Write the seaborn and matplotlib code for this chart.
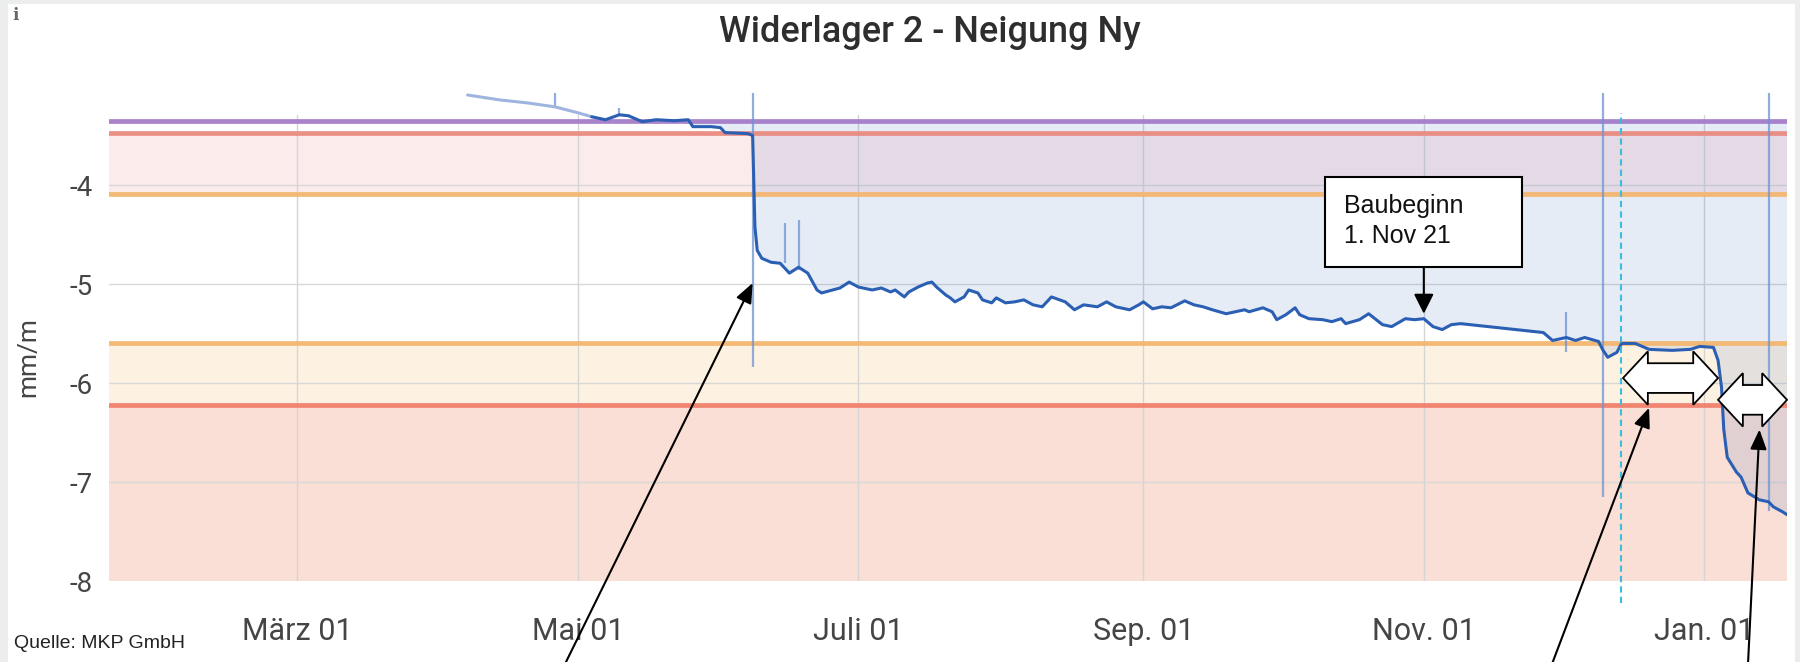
import numpy as np
import pandas as pd
import matplotlib
matplotlib.use("Agg")
import matplotlib.pyplot as plt
import matplotlib.dates as mdates
from matplotlib.patches import Rectangle, Polygon
import seaborn as sns

dates = ["2021-04-07", "2021-04-14", "2021-04-20", "2021-04-26", "2021-05-01", "2021-05-04",
         "2021-05-07", "2021-05-10", "2021-05-12", "2021-05-15", "2021-05-18", "2021-05-22",
         "2021-05-25", "2021-05-26", "2021-05-30", "2021-06-01", "2021-06-02", "2021-06-07",
         "2021-06-08 00:00", "2021-06-08 06:00", "2021-06-08 12:00", "2021-06-09", "2021-06-10",
         "2021-06-12", "2021-06-14", "2021-06-16", "2021-06-18", "2021-06-20", "2021-06-22",
         "2021-06-23", "2021-06-27", "2021-06-29",
         "2021-07-01", "2021-07-04", "2021-07-06", "2021-07-08", "2021-07-09", "2021-07-11",
         "2021-07-12", "2021-07-14", "2021-07-16", "2021-07-17", "2021-07-18", "2021-07-20",
         "2021-07-21", "2021-07-22", "2021-07-24", "2021-07-25", "2021-07-27", "2021-07-28",
         "2021-07-30", "2021-07-31", "2021-08-02", "2021-08-04", "2021-08-06", "2021-08-08",
         "2021-08-10", "2021-08-12", "2021-08-15", "2021-08-17", "2021-08-19", "2021-08-22",
         "2021-08-24", "2021-08-26", "2021-08-29", "2021-08-31", "2021-09-01",
         "2021-09-03", "2021-09-05", "2021-09-07", "2021-09-10", "2021-09-12", "2021-09-14",
         "2021-09-16", "2021-09-19", "2021-09-21", "2021-09-23", "2021-09-24", "2021-09-27",
         "2021-09-29", "2021-09-30", "2021-10-02", "2021-10-04", "2021-10-05", "2021-10-07",
         "2021-10-10", "2021-10-12", "2021-10-14", "2021-10-15", "2021-10-18", "2021-10-20",
         "2021-10-23", "2021-10-25", "2021-10-28", "2021-10-30", "2021-11-01", "2021-11-03",
         "2021-11-05", "2021-11-07", "2021-11-09",
         "2021-11-27", "2021-11-29", "2021-12-02", "2021-12-04", "2021-12-06",
         "2021-12-09", "2021-12-10", "2021-12-11", "2021-12-13", "2021-12-14", "2021-12-17",
         "2021-12-20", "2021-12-25", "2021-12-29", "2021-12-31", "2022-01-03", "2022-01-04",
         "2022-01-04 18:00", "2022-01-05 06:00", "2022-01-06", "2022-01-08", "2022-01-09",
         "2022-01-10 12:00", "2022-01-13", "2022-01-15", "2022-01-16", "2022-01-18", "2022-01-19"]
values = [-3.09, -3.14, -3.17, -3.21, -3.27, -3.31,
          -3.34, -3.29, -3.30, -3.36, -3.34, -3.35,
          -3.34, -3.41, -3.41, -3.42, -3.47, -3.48,
          -3.50, -3.95, -4.42, -4.66, -4.74,
          -4.78, -4.79, -4.89, -4.83, -4.89, -5.06,
          -5.09, -5.04, -4.98,
          -5.03, -5.06, -5.04, -5.08, -5.06, -5.13,
          -5.08, -5.03, -4.99, -4.98, -5.03, -5.11,
          -5.14, -5.18, -5.13, -5.06, -5.09, -5.16,
          -5.19, -5.14, -5.19, -5.18, -5.16, -5.21,
          -5.23, -5.13, -5.18, -5.26, -5.21, -5.23,
          -5.18, -5.23, -5.26, -5.21, -5.18,
          -5.25, -5.23, -5.24, -5.17, -5.21, -5.23,
          -5.26, -5.30, -5.28, -5.26, -5.28, -5.24,
          -5.28, -5.36, -5.31, -5.24, -5.31, -5.35,
          -5.36, -5.38, -5.35, -5.40, -5.36, -5.30,
          -5.41, -5.43, -5.35, -5.36, -5.35, -5.43,
          -5.46, -5.41, -5.40,
          -5.49, -5.57, -5.54, -5.57, -5.54,
          -5.58, -5.67, -5.74, -5.69, -5.60, -5.60,
          -5.66, -5.67, -5.66, -5.63, -5.64, -5.77,
          -6.04, -6.47, -6.75, -6.90, -6.95,
          -7.11, -7.18, -7.20, -7.25, -7.30, -7.33]
faded_until = "2021-05-04"

# short min/max spikes of the raw readings
spike_dates = ["2021-04-26", "2021-05-10", "2021-06-08", "2021-06-15", "2021-06-18",
               "2021-12-02", "2021-12-10", "2022-01-15"]
spike_low = [-3.21, -3.30, -5.84, -4.79, -4.86, -5.69, -7.15, -7.29]
spike_high = [-3.07, -3.22, -3.07, -4.38, -4.35, -5.28, -3.07, -3.07]

# threshold levels
thr_values = [-3.35, -3.47, -4.09, -5.60, -6.22]
thr_colors = ["#a47cc8", "#ea8a80", "#f3b66f", "#f3b66f", "#f1806d"]
band_ranges = [(-4.09, -3.47), (-6.22, -5.60), (-8.0, -6.22)]
band_colors = ["#fcebeb", "#fdf1e2", "#f9dfd5"]

tick_dates = ["2021-03-01", "2021-05-01", "2021-07-01", "2021-09-01", "2021-11-01", "2022-01-01"]
tick_labels = ["März 01", "Mai 01", "Juli 01", "Sep. 01", "Nov. 01", "Jan. 01"]
y_ticks = [-8, -7, -6, -5, -4]
y_labels = ["-8", "-7", "-6", "-5", "-4"]

marker_date = "2021-12-14"
start_date = "2021-11-01"

df = pd.DataFrame({"date": pd.to_datetime(dates, format="ISO8601"), "value": values})
early = df[df["date"] <= faded_until]
late = df[df["date"] >= faded_until]

sns.set_style("white")
plt.rcParams["font.family"] = ["Roboto", "DejaVu Sans"]

fig = plt.figure(figsize=(18, 6.62), dpi=100, facecolor="#eceeee")
fig.patches.append(Rectangle((8 / 1800, 0), 1787 / 1800, 1 - 4 / 662, transform=fig.transFigure,
                             facecolor="white", edgecolor="none", zorder=-10))
ax = fig.add_axes([109 / 1800, 1 - 581 / 662, 1678 / 1800, 488 / 662])
ax.set_facecolor("white")

for (lo, hi), c in zip(band_ranges, band_colors):
    ax.axhspan(lo, hi, color=c, lw=0, zorder=0)

for d in tick_dates:
    ax.axvline(pd.Timestamp(d), ymax=0.955, color="#d5d5d5", lw=1, zorder=0.5)
for v in y_ticks[1:]:
    ax.axhline(v, color="#d8d8d8", lw=1, zorder=0.5)

ax.fill_between(df["date"], df["value"], thr_values[0], where=df["value"] <= thr_values[0],
                interpolate=True, color="#3d6fc0", alpha=0.13, lw=0, zorder=1)

for v, c in zip(thr_values, thr_colors):
    ax.axhline(v, color=c, lw=3.4, alpha=0.95, zorder=2)

ax.vlines(pd.to_datetime(spike_dates), spike_low, spike_high, color="#6d92d4", lw=1.6,
          alpha=0.75, zorder=2.5)

sns.lineplot(data=early, x="date", y="value", color="#9fb5df", lw=2.2, estimator=None, ax=ax,
             zorder=3)
sns.lineplot(data=late, x="date", y="value", color="#2b5fb4", lw=2.2, estimator=None, ax=ax,
             zorder=3)

ax.axvline(pd.Timestamp(marker_date), ymin=-0.045, ymax=0.96, color="#3bbde0", lw=1.5,
           ls=(0, (3, 2)), clip_on=False, zorder=4)

ax.set_xlim(pd.Timestamp("2021-01-19"), pd.Timestamp("2022-01-19"))
ax.set_ylim(-8, -3.07)
ax.set_xticks(pd.to_datetime(tick_dates))
ax.set_xticklabels(tick_labels, fontsize=22, color="#454545")
ax.set_yticks(y_ticks)
ax.set_yticklabels(y_labels, fontsize=20, color="#454545")
ax.tick_params(axis="x", length=0, pad=26)
ax.tick_params(axis="y", length=0, pad=12)
ax.set_xlabel("")
ax.set_ylabel("mm/m", fontsize=19, color="#454545")
ax.yaxis.set_label_coords(-0.041, 0.459)
for s in ax.spines.values():
    s.set_visible(False)

fig.text(930 / 1800, 1 - 32 / 662, "Widerlager 2 - Neigung Ny", ha="center", va="center",
         fontsize=26, fontweight="medium", color="#2e2e2e")
fig.text(12 / 1800, 1 - 16 / 662, "i", ha="left", va="center", fontsize=12, fontweight="bold",
         family="DejaVu Serif", color="#666666")
fig.text(14 / 1800, 1 - 643 / 662, "Quelle: MKP GmbH", ha="left", va="center", fontsize=14,
         family="Liberation Sans", color="#222222")

# Baubeginn callout
box_x0 = mdates.date2num(pd.Timestamp("2021-10-10 10:00"))
box_x1 = mdates.date2num(pd.Timestamp("2021-11-22 08:00"))
ax.add_patch(Rectangle((box_x0, -4.83), box_x1 - box_x0, 0.91, fc="white", ec="black", lw=1.5,
                       zorder=6))
ax.text(pd.Timestamp("2021-10-14 14:00"), -4.36, "Baubeginn\n1. Nov 21", ha="left", va="center",
        fontsize=18, family="Liberation Sans", color="#111111", linespacing=1.3, zorder=7)
ax.annotate("", xy=(pd.Timestamp(start_date), -5.30), xytext=(pd.Timestamp(start_date), -4.84),
            arrowprops=dict(arrowstyle="-|>,head_length=0.6,head_width=0.3", color="black",
                            lw=1.5, shrinkA=0, shrinkB=0, mutation_scale=20), zorder=7)

# pointer arrows coming from below the chart
pointers = [("2021-06-08", -4.99, 565), ("2021-12-20", -6.25, 1552), ("2022-01-13", -6.47, 1748)]
for d, v, px in pointers:
    ax.annotate("", xy=(pd.Timestamp(d), v), xytext=(px, -2), textcoords="figure pixels",
                arrowprops=dict(arrowstyle="-|>,head_length=0.6,head_width=0.25", color="black",
                                lw=1.5, shrinkA=0, shrinkB=0, mutation_scale=20),
                annotation_clip=False, zorder=7)


def double_arrow(start, end, yc):
    x0 = mdates.date2num(pd.Timestamp(start))
    x1 = mdates.date2num(pd.Timestamp(end))
    hl, hh, sh = 5.4, 0.27, 0.15
    pts = [(x0, yc), (x0 + hl, yc + hh), (x0 + hl, yc + sh), (x1 - hl, yc + sh),
           (x1 - hl, yc + hh), (x1, yc), (x1 - hl, yc - hh), (x1 - hl, yc - sh),
           (x0 + hl, yc - sh), (x0 + hl, yc - hh)]
    ax.add_patch(Polygon(pts, closed=True, fc="white", ec="black", lw=1.3, zorder=6,
                         clip_on=False))


double_arrow("2021-12-14 08:00", "2022-01-04", -5.95)
double_arrow("2022-01-04", "2022-01-19", -6.17)

fig.savefig("out.png", dpi=100, facecolor=fig.get_facecolor())
